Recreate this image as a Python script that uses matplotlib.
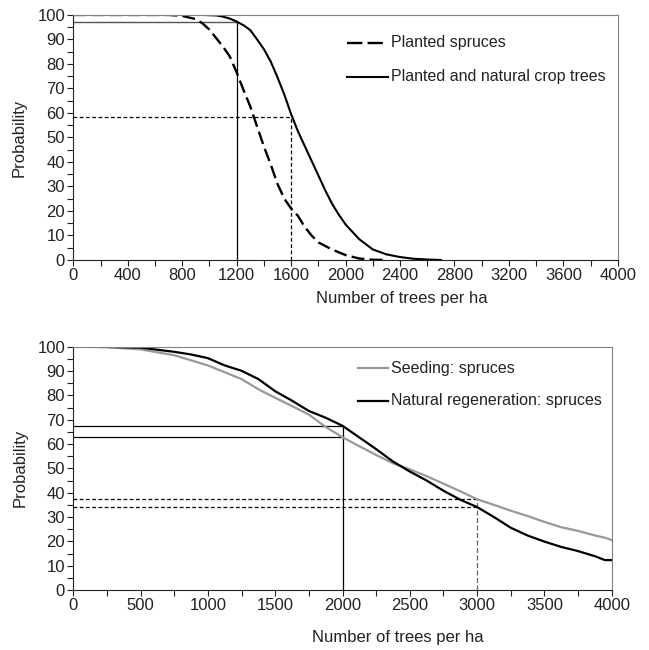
import matplotlib
matplotlib.use("Agg")
import matplotlib.pyplot as plt
from matplotlib.ticker import MultipleLocator

plt.rcParams['font.family'] = ['Liberation Sans', 'DejaVu Sans']
plt.rcParams['font.size'] = 11.5

# top panel: planted stands
top_planted_x = [0, 700, 800, 900, 950, 1000, 1050, 1100, 1150, 1200, 1250, 1300, 1350,
                 1400, 1450, 1500, 1550, 1600, 1650, 1700, 1750, 1800, 1900, 2000,
                 2100, 2200, 2300]
top_planted_y = [100, 100, 99.6, 98.3, 96.5, 94, 90.5, 87, 83, 76.5, 69.4, 62.6, 54.4,
                 46.3, 39, 31, 25, 21, 18, 13.5, 10, 7.2, 4.3, 2, 0.6, 0.1, 0]
top_crop_x = [0, 950, 1050, 1100, 1150, 1200, 1250, 1300, 1350, 1400, 1450, 1500, 1550,
              1600, 1650, 1700, 1750, 1800, 1850, 1900, 1950, 2000, 2050, 2100, 2200,
              2300, 2400, 2500, 2600, 2700]
top_crop_y = [100, 100, 99.8, 99.3, 98.5, 97.3, 95.8, 93.8, 90, 86, 81, 74.5, 67.5,
              59.5, 52.5, 46.5, 40.5, 34.5, 28.5, 23, 18.5, 14.5, 11.5, 8.5, 4.3,
              2.3, 1.2, 0.5, 0.2, 0]
top_labels = ['Planted spruces', 'Planted and natural crop trees']
top_ref_solid = (1200, 97)
top_ref_dash = (1600, 58.2)

# bottom panel: seeding vs natural regeneration
bot_x = [0, 250, 500, 750, 875, 1000, 1125, 1250, 1375, 1500, 1625, 1750, 1875, 2000,
         2125, 2250, 2375, 2500, 2625, 2750, 2875, 3000, 3125, 3250, 3375, 3500,
         3625, 3750, 3875, 3950, 4000]
bot_seed_y = [100, 99.8, 98.9, 96.5, 94.4, 92.3, 89.5, 86.7, 82.5, 79, 75.6, 72.1, 67,
              62.8, 59.1, 55.5, 52.1, 49.6, 46.8, 43.7, 40.6, 37.3, 35, 32.6, 30.4,
              28, 25.8, 24.3, 22.4, 21.5, 20.5]
bot_nat_y = [100, 99.9, 99.6, 97.9, 96.8, 95.3, 92.3, 90.1, 86.7, 81.7, 77.8, 73.6, 70.8,
             67.5, 62.7, 57.9, 52.8, 48.7, 45.0, 40.8, 37.1, 34.1, 30.0, 25.6, 22.4,
             19.9, 17.7, 16.0, 13.9, 12.3, 12.3]
bot_labels = ['Seeding: spruces', 'Natural regeneration: spruces']
bot_ref_solid = (2000, 67.5, 62.7)
bot_ref_dash = (3000, 37.3, 34.2)

fig = plt.figure(figsize=(6.49, 6.5), dpi=100)
ax1 = fig.add_axes([0.113, 0.600, 0.839, 0.377])
ax2 = fig.add_axes([0.113, 0.0923, 0.8295, 0.3743])

TXT = '#222222'


def style(ax, xmaj, xmin, xlab_y):
    ax.set_xlim(0, 4000)
    ax.set_ylim(0, 100)
    ax.xaxis.set_major_locator(MultipleLocator(xmaj))
    ax.xaxis.set_minor_locator(MultipleLocator(xmin))
    ax.yaxis.set_major_locator(MultipleLocator(10))
    ax.yaxis.set_minor_locator(MultipleLocator(5))
    ax.tick_params(which='both', direction='out', length=4, width=0.8,
                   colors=TXT, labelsize=12, pad=2)
    for s in ['top', 'right']:
        ax.spines[s].set_color('#808080')
    for s in ['left', 'bottom']:
        ax.spines[s].set_color(TXT)
    ax.set_ylabel('Probability', color=TXT, fontsize=12)
    ax.set_xlabel('Number of trees per ha', color=TXT, fontsize=12)
    ax.yaxis.set_label_coords(-0.085, 0.5)
    ax.xaxis.set_label_coords(0.603, xlab_y)


def legend_row(ax, x0, x1, y, label, **kw):
    ax.plot([x0, x1], [y, y], transform=ax.transAxes, clip_on=False, **kw)
    ax.text(x1 + 0.006, y, label, transform=ax.transAxes, va='center', ha='left',
            color=TXT, fontsize=11.5)


# top panel
style(ax1, 400, 200, -0.125)
ax1.plot([0, top_ref_solid[0]], [top_ref_solid[1]] * 2, color='#555555', lw=1.0)
ax1.plot([top_ref_solid[0]] * 2, [0, top_ref_solid[1]], color='black', lw=0.9)
ax1.plot([0, top_ref_dash[0]], [top_ref_dash[1]] * 2, color='black', lw=0.9,
         dashes=(3, 2))
ax1.plot([top_ref_dash[0]] * 2, [0, top_ref_dash[1]], color='black', lw=0.9,
         dashes=(3, 2))
ax1.plot(top_planted_x, top_planted_y, color='black', lw=1.7, dashes=(5.5, 2.2))
ax1.plot(top_crop_x, top_crop_y, color='black', lw=1.5)
legend_row(ax1, 0.503, 0.578, 0.887, top_labels[0], color='black', lw=1.7,
           dashes=(6.5, 2.2))
legend_row(ax1, 0.503, 0.578, 0.748, top_labels[1], color='black', lw=1.5)

# bottom panel
style(ax2, 500, 250, -0.165)
ax2.plot([0, bot_ref_solid[0]], [bot_ref_solid[1]] * 2, color='black', lw=0.9)
ax2.plot([0, bot_ref_solid[0]], [bot_ref_solid[2]] * 2, color='black', lw=0.9)
ax2.plot([bot_ref_solid[0]] * 2, [0, bot_ref_solid[1]], color='black', lw=0.9)
ax2.plot([0, bot_ref_dash[0]], [bot_ref_dash[1]] * 2, color='black', lw=0.9,
         dashes=(3, 2))
ax2.plot([0, bot_ref_dash[0]], [bot_ref_dash[2]] * 2, color='black', lw=0.9,
         dashes=(3, 2))
ax2.plot([bot_ref_dash[0]] * 2, [0, bot_ref_dash[1]], color='#666666', lw=0.9,
         dashes=(4, 2))
ax2.plot(bot_x, bot_seed_y, color='#999999', lw=1.6)
ax2.plot(bot_x, bot_nat_y, color='black', lw=1.6)
legend_row(ax2, 0.529, 0.584, 0.912, bot_labels[0], color='#999999', lw=1.6)
legend_row(ax2, 0.529, 0.584, 0.778, bot_labels[1], color='black', lw=1.6)

fig.savefig('out.png', dpi=100)
